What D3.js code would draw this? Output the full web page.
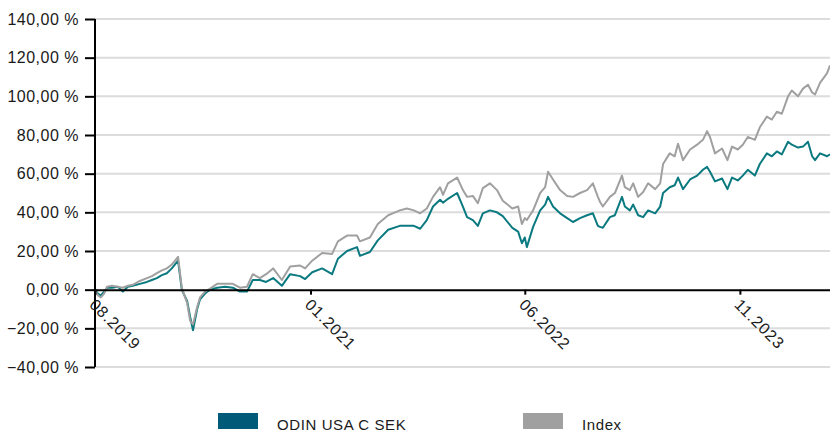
<!DOCTYPE html>
<html>
<head>
<meta charset="utf-8">
<script src="https://cdn.jsdelivr.net/npm/d3@7"></script>
<style>
  html, body { margin: 0; padding: 0; background: #fff; }
  #chart { width: 830px; height: 432px; }
</style>
</head>
<body>
<div id="chart"></div>
<script>
const dates = [
  "2019-08-01","2019-08-08","2019-08-15","2019-08-23","2019-08-30","2019-09-11","2019-09-25","2019-10-07",
  "2019-10-19","2019-10-31","2019-11-17","2019-12-04","2019-12-16","2019-12-28","2020-01-09","2020-01-21",
  "2020-02-02","2020-02-17","2020-02-26","2020-03-10","2020-03-17","2020-03-24","2020-04-03","2020-04-10",
  "2020-04-22","2020-05-04","2020-05-21","2020-06-09","2020-06-28","2020-07-15","2020-08-01","2020-08-15",
  "2020-09-01","2020-09-16","2020-10-03","2020-10-24","2020-11-13","2020-12-07","2020-12-19","2021-01-05",
  "2021-01-29","2021-02-22","2021-03-08","2021-03-30","2021-04-23","2021-04-30","2021-05-24","2021-06-12",
  "2021-07-07","2021-08-04","2021-08-21","2021-09-07","2021-09-22","2021-10-08","2021-10-23","2021-11-09",
  "2021-11-16","2021-11-28","2021-12-20","2022-01-03","2022-01-13","2022-01-27","2022-02-08","2022-02-20",
  "2022-03-09","2022-03-26","2022-04-09","2022-05-02","2022-05-16","2022-05-25","2022-06-01","2022-06-06",
  "2022-06-21","2022-07-08","2022-07-20","2022-07-27","2022-08-08","2022-08-25","2022-09-11","2022-09-25",
  "2022-10-12","2022-10-29","2022-11-12","2022-11-24","2022-11-29","2022-12-06","2022-12-23","2023-01-04",
  "2023-01-21","2023-01-28","2023-02-09","2023-02-17","2023-03-01","2023-03-13","2023-03-25","2023-04-11",
  "2023-04-23","2023-04-30","2023-05-16","2023-05-28","2023-06-05","2023-06-17","2023-07-04","2023-07-21",
  "2023-08-04","2023-08-14","2023-08-21","2023-09-02","2023-09-19","2023-10-02","2023-10-13","2023-10-27",
  "2023-11-08","2023-11-20","2023-12-07","2023-12-19","2024-01-05","2024-01-17","2024-01-29","2024-02-10",
  "2024-02-25","2024-03-05","2024-03-20","2024-04-01","2024-04-13","2024-04-23","2024-04-30","2024-05-12",
  "2024-05-29","2024-06-05"
];

// ODIN USA C SEK, cumulative return in %
const fundValues = [
  0, -2, -3, -1, 1, 1, 1.5, -1,
  1.5, 2, 3, 4, 5, 6, 7.5, 8.5,
  11, 15, 0, -6, -14, -21, -10, -5,
  -2, 0, 1, 1.5, 1, -1, -1, 5,
  5, 4, 6, 2, 8, 7, 5.5, 9,
  11, 8, 16, 20, 22, 17.5, 19.5, 25.5,
  31, 33, 33, 33, 31.5, 36, 43, 46.5,
  45, 47, 50, 43, 37.5, 36, 33, 39.5,
  41, 40, 38, 32, 30, 24, 27, 22,
  32.5, 41, 44, 48, 43, 39.5, 37, 35,
  37, 38.5, 39.5, 33, 32.5, 32, 37.5, 38.5,
  48, 43, 41, 44, 38.5, 37.5, 41, 39.5,
  43, 50, 53, 54, 58, 52, 57, 59,
  62, 63.5, 61, 56, 57.5, 52, 58, 56.5,
  59, 62, 59, 65, 70.5, 69, 71.5, 70,
  76.5, 75, 73.5, 74, 76.5, 69, 67, 70.5,
  69, 70
];

// Index, cumulative return in %
const indexValues = [
  0, -3, -4, -2, 1.5, 2, 1.5, 1,
  2, 2.5, 4.5, 6, 7, 8.5, 10, 11,
  13, 17, 1, -7, -16, -18, -9, -4,
  -1, 0.5, 3, 3, 3, 1, 1.5, 8,
  6, 8, 11, 5, 12, 12.5, 11, 15,
  19, 18.5, 25, 28, 28, 25, 27, 34,
  38.5, 41, 42, 41, 39.5, 42, 48, 53,
  49, 55, 58, 51.5, 48, 48.5, 44.7, 52.5,
  55, 51.5, 46, 42, 43, 34, 37, 36,
  41, 50, 53, 61, 57, 51.5, 48.5, 48,
  50, 51.5, 55, 48, 45.5, 43, 48, 50,
  59, 53, 51.5, 55, 48, 50.5, 55, 52,
  55, 65, 70.5, 69, 75.5, 67, 72.5, 75,
  77.5, 82, 79, 70.5, 73, 67, 74, 72.5,
  75, 79, 77.5, 84, 89.5, 88, 92, 91,
  100, 103, 100, 104, 106, 102, 101, 107,
  112, 116
];

const yTicks = [-40, -20, 0, 20, 40, 60, 80, 100, 120, 140];
const xTicks = ["2019-08-01", "2021-01-01", "2022-06-01", "2023-11-01"];
const seriesNames = ["ODIN USA C SEK", "Index"];

class ReturnChart {

  constructor(opts) {
    this.element = opts.element;
    this.width = 830;
    this.height = 432;

    this.left = 95,
      this.right = 830,
      this.top = 19,
      this.bottom = 367;

    this.fundColor = "#0b7a80";
    this.fundLegendColor = "#005a78";
    this.indexColor = "#a0a0a0";

    this.draw();
  }

  draw() {
    this.element.innerHTML = '';
    this.svg = d3.select(this.element).append('svg')
      .attr('width', this.width)
      .attr('height', this.height)
      .style('font-family', '"Liberation Sans", Arial, sans-serif');

    this.createScales();
    this.createGrid();
    this.createLines();
    this.createAxes();
    this.createLegend();
  }

  createScales() {
    const parse = d3.timeParse("%Y-%m-%d");
    this.points = dates.map((d, i) => ({
      date: parse(d),
      fund: fundValues[i],
      index: indexValues[i]
    }));

    this.x = d3.scaleTime()
      .domain([parse("2019-08-01"), parse("2024-06-05")])
      .range([this.left, this.right]);

    this.y = d3.scaleLinear()
      .domain([-40, 140])
      .range([this.bottom, this.top]);

    this.xTickDates = xTicks.map(parse);
  }

  createGrid() {
    this.svg.append('g').attr('id', 'grid')
      .selectAll('line')
      .data(yTicks.filter(d => d !== 0))
      .enter().append('line')
      .attr('x1', this.left).attr('x2', this.right)
      .attr('y1', d => this.y(d)).attr('y2', d => this.y(d))
      .attr('stroke', '#dcdcdc')
      .attr('stroke-width', 2);
  }

  createLines() {
    const fundLine = d3.line()
      .x(d => this.x(d.date))
      .y(d => this.y(d.fund));
    const indexLine = d3.line()
      .x(d => this.x(d.date))
      .y(d => this.y(d.index));

    const g = this.svg.append('g').attr('id', 'lines');
    g.append('path')
      .attr('d', fundLine(this.points))
      .attr('fill', 'none')
      .attr('stroke', this.fundColor)
      .attr('stroke-width', 2)
      .attr('stroke-linejoin', 'round');
    g.append('path')
      .attr('d', indexLine(this.points))
      .attr('fill', 'none')
      .attr('stroke', this.indexColor)
      .attr('stroke-width', 2)
      .attr('stroke-linejoin', 'round');
  }

  createAxes() {
    const fmt = d3.formatLocale({ decimal: ",", thousands: " ", grouping: [3], currency: ["", ""] });
    const pct = d => fmt.format(".2f")(d) + " %";

    // y axis
    const yAxis = this.svg.append('g')
      .attr('transform', `translate(${this.left},0)`)
      .call(d3.axisLeft(this.y).tickValues(yTicks).tickFormat(pct).tickSize(10).tickPadding(6));
    yAxis.select('.domain').attr('stroke', '#000').attr('stroke-width', 2)
      .attr('d', `M0,${this.bottom}V${this.top}`);
    yAxis.selectAll('.tick line').attr('stroke', '#000').attr('stroke-width', 2);
    yAxis.selectAll('.tick text')
      .attr('fill', '#1a1a1a')
      .style('font-size', '16px')
      .style('letter-spacing', '0.5px');

    // x axis sits on the zero line
    const xAxis = this.svg.append('g')
      .attr('transform', `translate(0,${this.y(0)})`)
      .call(d3.axisBottom(this.x).tickValues(this.xTickDates)
        .tickFormat(d3.timeFormat("%m.%Y")).tickSize(5).tickSizeOuter(0));
    xAxis.select('.domain').attr('stroke', '#000').attr('stroke-width', 2);
    xAxis.selectAll('.tick line').attr('stroke', '#000').attr('stroke-width', 2);
    xAxis.selectAll('.tick text')
      .attr('fill', '#1a1a1a')
      .style('font-size', '16px')
      .style('letter-spacing', '0.9px')
      .attr('text-anchor', 'start')
      .attr('x', 0).attr('y', 0).attr('dy', '0.35em')
      .attr('transform', 'translate(-3,12) rotate(45)');
  }

  createLegend() {
    const items = [
      { name: seriesNames[0], color: this.fundLegendColor, x: 218 },
      { name: seriesNames[1], color: this.indexColor, x: 523 }
    ];
    const legend = this.svg.append('g').attr('id', 'legend');
    const item = legend.selectAll('g').data(items).enter().append('g')
      .attr('transform', d => `translate(${d.x},413)`);
    item.append('rect')
      .attr('width', 40).attr('height', 16)
      .attr('fill', d => d.color);
    item.append('text')
      .attr('x', 59).attr('y', 17)
      .attr('fill', '#1a1a1a')
      .style('font-size', '15px')
      .style('letter-spacing', '0.6px')
      .text(d => d.name);
  }
}

new ReturnChart({ element: document.getElementById('chart') });
</script>
</body>
</html>
